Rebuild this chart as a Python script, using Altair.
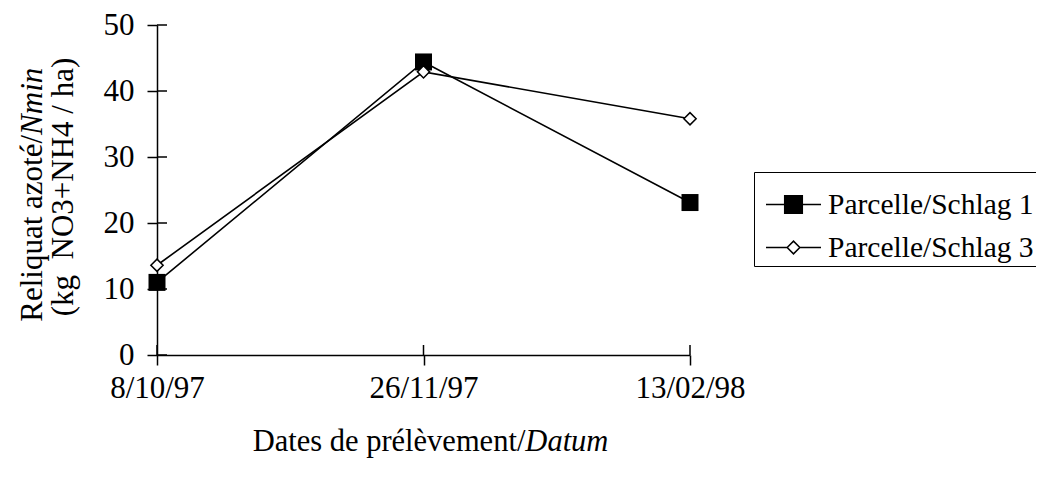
import altair as alt
import pandas as pd

dates = ["8/10/97", "26/11/97", "13/02/98"]
series_names = ["Parcelle/Schlag 1", "Parcelle/Schlag 3"]
schlag1 = [11.0, 44.4, 23.1]
schlag3 = [13.6, 42.9, 35.8]
y_ticks = [0, 10, 20, 30, 40, 50]

FONT = "Liberation Serif"
FS = 31
W, H = 533, 330

rows = []
for d, v in zip(dates, schlag1):
    rows.append({"date": d, "value": v, "series": series_names[0]})
for d, v in zip(dates, schlag3):
    rows.append({"date": d, "value": v, "series": series_names[1]})
df = pd.DataFrame(rows)

xs = alt.X("date:N", sort=dates, title=None,
           scale=alt.Scale(type="point", padding=0),
           axis=alt.Axis(labelAngle=0, labelFont=FONT, labelFontSize=FS, labelColor="black",
                         tickSize=10, tickColor="black", tickWidth=1.5,
                         domainColor="black", domainWidth=1.5, labelPadding=8, grid=False))
ys = alt.Y("value:Q", title=None, scale=alt.Scale(domain=[0, 50], nice=False),
           axis=alt.Axis(values=y_ticks, labelFont=FONT, labelFontSize=FS, labelColor="black",
                         tickSize=10, tickColor="black", tickWidth=1.5,
                         domainColor="black", domainWidth=1.5, labelPadding=13, grid=False))

base = alt.Chart(df)

lines = base.mark_line(color="black", strokeWidth=1.6).encode(x=xs, y=ys, detail="series:N")

pts1 = base.transform_filter(alt.datum.series == series_names[0]).mark_point(
    shape="square", filled=True, color="black", size=289, opacity=1).encode(x=xs, y=ys)
pts3 = base.transform_filter(alt.datum.series == series_names[1]).mark_point(
    shape="diamond", filled=True, fill="white", stroke="black", strokeWidth=1.5, size=150,
    opacity=1).encode(x=xs, y=ys)

sym1 = "M-1,0H1M-0.32,-0.32H0.32V0.32H-0.32Z"
sym3 = "M-1,0H-0.23M0.23,0H1M-0.23,0L0,-0.23L0.23,0L0,0.23Z"

def make_legend():
    return alt.Legend(title=None, orient="none", legendX=597, legendY=147,
                      labelFont=FONT, labelFontSize=29.5, labelColor="black",
                      symbolSize=3025, symbolStrokeColor="black",
                      symbolStrokeWidth=1.5, symbolOpacity=1, symbolOffset=7,
                      strokeColor="black", fillColor="white",
                      padding=4, rowPadding=0, labelOffset=6,
                      labelLimit=400)

legend_layer = base.mark_point(filled=False, strokeWidth=1.5, opacity=0).encode(
    x=xs, y=ys,
    shape=alt.Shape("series:N", scale=alt.Scale(domain=series_names, range=[sym1, sym3]),
                    legend=make_legend()),
    fill=alt.Fill("series:N", scale=alt.Scale(domain=series_names, range=["black", "white"]),
                  legend=make_legend()),
    stroke=alt.Stroke("series:N", scale=alt.Scale(domain=series_names, range=["black", "black"]),
                      legend=make_legend()),
)

# inward halves of the crossing ticks
ytick_df = pd.DataFrame({"value": y_ticks})
ytick_rules = alt.Chart(ytick_df).mark_rule(color="black", strokeWidth=1.5).encode(
    y=alt.Y("value:Q", scale=alt.Scale(domain=[0, 50], nice=False)),
    x=alt.value(0), x2=alt.value(10))
xtick_df = pd.DataFrame({"date": dates})
xtick_rules = alt.Chart(xtick_df).mark_rule(color="black", strokeWidth=1.5).encode(
    x=alt.X("date:N", sort=dates, scale=alt.Scale(type="point", padding=0)),
    y=alt.value(H - 10), y2=alt.value(H))

# axis titles (mixed roman / italic)
em = 30.5
w_xa = 8.942 * em
w_xb = 2.722 * em
xj = W / 2 + 7 - (w_xa + w_xb) / 2 + w_xa
t_x1 = alt.Chart(pd.DataFrame({"t": ["Dates de prélèvement/"]})).mark_text(
    font=FONT, fontSize=30.5, align="right", baseline="middle", color="black").encode(
    text="t:N", x=alt.value(xj), y=alt.value(417))
t_x2 = alt.Chart(pd.DataFrame({"t": ["Datum"]})).mark_text(
    font=FONT, fontSize=30.5, fontStyle="italic", align="left", baseline="middle", color="black").encode(
    text="t:N", x=alt.value(xj), y=alt.value(417))

em = FS
w_ya = 5.527 * em
w_yb = 2.167 * em
yc = 162
yj = yc + (w_ya + w_yb) / 2 - w_ya
t_y1 = alt.Chart(pd.DataFrame({"t": ["Reliquat azoté/"]})).mark_text(
    font=FONT, fontSize=FS, align="right", baseline="middle", angle=270, color="black").encode(
    text="t:N", x=alt.value(-124), y=alt.value(yj))
t_y2 = alt.Chart(pd.DataFrame({"t": ["Nmin"]})).mark_text(
    font=FONT, fontSize=FS, fontStyle="italic", align="left", baseline="middle", angle=270,
    color="black").encode(text="t:N", x=alt.value(-124), y=alt.value(yj))
t_y3 = alt.Chart(pd.DataFrame({"t": ["(kg\u00a0 NO3+NH4 / ha)"]})).mark_text(
    font=FONT, fontSize=FS, align="center", baseline="middle", angle=270, color="black").encode(
    text="t:N", x=alt.value(-93), y=alt.value(yc))

chart = alt.layer(
    lines, pts1, pts3, legend_layer, ytick_rules, xtick_rules,
    t_x1, t_x2, t_y1, t_y2, t_y3
).properties(
    width=W, height=H,
    autosize=alt.AutoSizeParams(type="none"),
    padding={"left": 149, "top": 17, "right": 346, "bottom": 116},
    background="white",
).configure_view(stroke=None)

chart.save("out.html", embed_options={"renderer": "svg", "actions": False})
